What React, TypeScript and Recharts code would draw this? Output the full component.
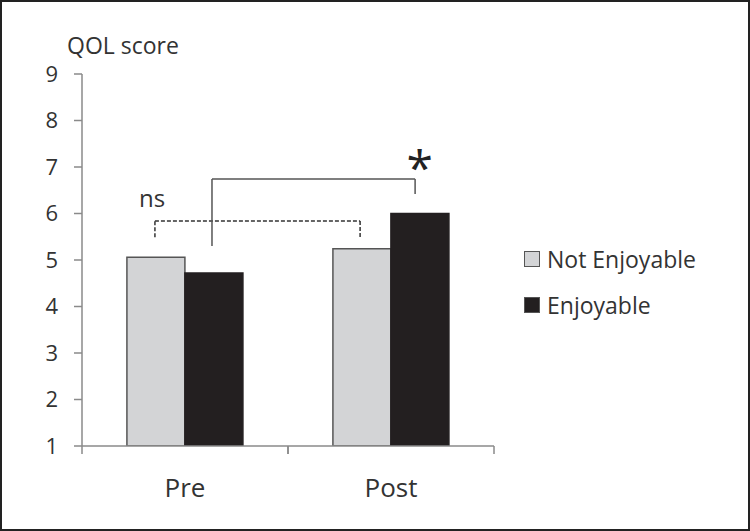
import React from 'react';
import {
  ComposedChart,
  Bar,
  XAxis,
  YAxis,
  ReferenceLine,
  ReferenceDot,
  Legend,
} from 'recharts';

const categories = ['Pre', 'Post'];
const seriesNames = ['Not Enjoyable', 'Enjoyable'];
const notEnjoyable = [5.06, 5.24];
const enjoyable = [4.72, 6.0];
const yTicks = [1, 2, 3, 4, 5, 6, 7, 8, 9];

// bracket paths in (position along x axis 0..2, QOL score) units
const nsBracket = [
  { x: 0.354, y: 5.49 },
  { x: 0.354, y: 5.84 },
  { x: 1.35, y: 5.84 },
  { x: 1.35, y: 5.47 },
];
const sigBracket = [
  { x: 0.631, y: 5.3 },
  { x: 0.631, y: 6.74 },
  { x: 1.617, y: 6.74 },
  { x: 1.617, y: 6.42 },
];
const nsLabel = { x: 0.34, y: 6.15, text: 'ns' };
const sigLabel = { x: 1.64, y: 6.62, text: '*' };

const data = categories.map((c, i) => ({
  name: c,
  pos: i + 0.5,
  notEnjoyable: notEnjoyable[i],
  enjoyable: enjoyable[i],
}));

const FONT = '"Open Sans", sans-serif';
const TEXT = '#333';
const AXIS = '#8a8a8a';

const segs = (pts: { x: number; y: number }[]) =>
  pts.slice(1).map((p, i) => [pts[i], p]);

const XTick = (props: any) => {
  const { x, y, payload } = props;
  const off = payload && payload.offset != null ? payload.offset : 103;
  return (
    <g>
      <line x1={x - off} y1={y} x2={x - off} y2={y + 8} stroke={AXIS} strokeWidth={1.5} />
      <line x1={x + off} y1={y} x2={x + off} y2={y + 8} stroke={AXIS} strokeWidth={1.5} />
      <text x={x} y={y + 51} textAnchor="middle" fill={TEXT} fontSize={26} fontFamily={FONT}>
        {payload.value}
      </text>
    </g>
  );
};

const LegendContent = (props: any) => {
  const payload = [...(props.payload || [])].sort(
    (a: any, b: any) => seriesNames.indexOf(a.value) - seriesNames.indexOf(b.value)
  );
  return (
    <div style={{ fontFamily: FONT }}>
      {payload.map((p: any) => (
        <div key={p.value} style={{ display: 'flex', alignItems: 'center', height: 46 }}>
          <span
            style={{
              display: 'inline-block',
              width: 14,
              height: 14,
              background: p.color,
              border: '1.5px solid #555',
              marginRight: 7,
            }}
          />
          <span style={{ fontSize: 23, color: TEXT }}>{p.value}</span>
        </div>
      ))}
    </div>
  );
};

export default function App() {
  return (
    <div style={{ position: 'absolute', left: 0, top: 0, width: 750, height: 531, background: '#fff' }}>
      <ComposedChart
        width={750}
        height={531}
        data={data}
        margin={{ top: 74, right: 256, bottom: 25, left: 0 }}
        barCategoryGap="21.8%"
        barGap={0}
      >
        <XAxis
          dataKey="name"
          axisLine={{ stroke: AXIS, strokeWidth: 1.5 }}
          tickLine={false}
          tickSize={0}
          tickMargin={0}
          height={60}
          tick={<XTick />}
        />
        <XAxis
          xAxisId="n"
          dataKey="pos"
          type="number"
          scale="linear"
          domain={[0, 2]}
          allowDataOverflow
          hide
        />
        <YAxis
          domain={[1, 9]}
          ticks={yTicks}
          allowDataOverflow
          width={82}
          axisLine={{ stroke: AXIS, strokeWidth: 1.5 }}
          tickLine={{ stroke: AXIS, strokeWidth: 1.5 }}
          tickSize={8}
          tickMargin={16}
          tick={{ fill: TEXT, fontSize: 22, fontFamily: FONT }}
        />
        <Bar
          dataKey="notEnjoyable"
          name={seriesNames[0]}
          fill="#d3d4d6"
          stroke="#555"
          strokeWidth={1.5}
          isAnimationActive={false}
        />
        <Bar
          dataKey="enjoyable"
          name={seriesNames[1]}
          fill="#231f20"
          stroke="#231f20"
          strokeWidth={1.5}
          isAnimationActive={false}
        />
        {segs(nsBracket).map((s, i) => (
          <ReferenceLine
            key={'ns' + i}
            xAxisId="n"
            segment={s}
            stroke="#333"
            strokeWidth={1.5}
            strokeDasharray="4 2"
          />
        ))}
        {segs(sigBracket).map((s, i) => (
          <ReferenceLine key={'sig' + i} xAxisId="n" segment={s} stroke="#555" strokeWidth={1.5} />
        ))}
        <ReferenceDot
          xAxisId="n"
          x={nsLabel.x}
          y={nsLabel.y}
          r={0}
          shape={(p: any) => (
            <text x={p.cx} y={p.cy} textAnchor="middle" fill={TEXT} fontSize={24} fontFamily={FONT}>
              {nsLabel.text}
            </text>
          )}
        />
        <ReferenceDot
          xAxisId="n"
          x={sigLabel.x}
          y={sigLabel.y}
          r={0}
          shape={(p: any) => (
            <text x={p.cx} y={p.cy} textAnchor="middle" fill="#222" fontSize={48} fontFamily={FONT}>
              {sigLabel.text}
            </text>
          )}
        />
        <Legend
          layout="vertical"
          align="center"
          verticalAlign="middle"
          wrapperStyle={{ left: 524, top: 236, width: 226 }}
          content={<LegendContent />}
        />
      </ComposedChart>
      <div
        style={{
          position: 'absolute',
          left: 67,
          top: 30,
          fontFamily: FONT,
          fontSize: 23,
          color: TEXT,
          lineHeight: '30px',
          whiteSpace: 'nowrap',
        }}
      >
        QOL score
      </div>
      <div
        style={{
          position: 'absolute',
          left: 0,
          top: 0,
          width: 750,
          height: 531,
          boxSizing: 'border-box',
          border: '2px solid #222',
          pointerEvents: 'none',
        }}
      />
    </div>
  );
}
